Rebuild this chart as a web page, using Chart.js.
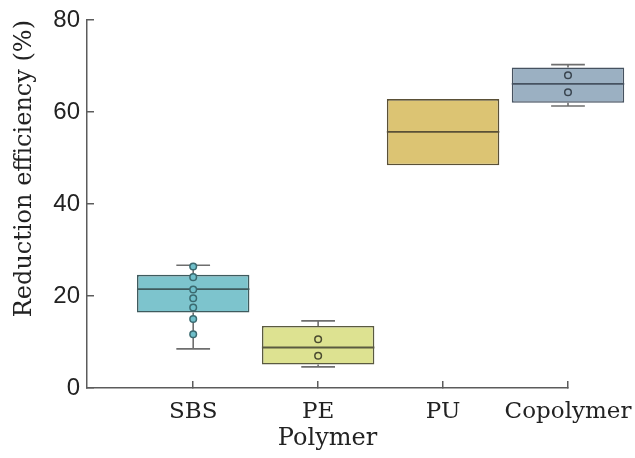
<!DOCTYPE html>
<html>
<head>
<meta charset="utf-8">
<script src="https://cdn.jsdelivr.net/npm/chart.js@4.4.1/dist/chart.umd.min.js"></script>
<style>
  html, body { margin: 0; padding: 0; background: #ffffff; }
  #wrap { width: 635px; height: 458px; }
</style>
</head>
<body>
<div id="wrap"><canvas id="c" width="635" height="458"></canvas></div>
<script>
// Polymer groups and their box-plot summaries (reduction efficiency, %)
const categories = ['SBS', 'PE', 'PU', 'Copolymer'];
const whiskerLow  = [8.5, 4.6, 48.4, 61.3];
const q1          = [16.4, 5.1, 48.4, 62.0];
const median      = [21.5, 8.8, 55.7, 66.1];
const q3          = [24.6, 13.5, 62.8, 69.7];
const whiskerHigh = [26.7, 14.6, 62.8, 70.3];

// Individual measurements shown over the boxes
const sbsPoints = [26.4, 24.1, 21.4, 19.5, 17.5, 15.0, 11.7];
const pePoints = [10.6, 7.0];
const copolymerPoints = [68.0, 64.3];

const yTicks = [0, 20, 40, 60, 80];

const boxFill   = ['#7dc4cd', '#dde291', '#dcc473', '#9bb0c2'];
const boxBorder = ['#3f5b5e', '#5a5a40', '#5a5036', '#465260'];

const boxData = categories.map((c, i) => ({ x: i + 1, y: [q1[i], q3[i]] }));
const toPoints = (vals, pos) => vals.map(v => ({ x: pos, y: v }));

// Whiskers and median lines, drawn right after the boxes
const boxLines = {
  id: 'boxLines',
  afterDatasetDraw(chart, args) {
    if (args.index !== 0) return;
    const { ctx, scales: { x, y } } = chart;
    const capHalf = 0.135;
    ctx.save();
    ctx.lineCap = 'butt';
    categories.forEach((c, i) => {
      const cx = x.getPixelForValue(i + 1);
      const capL = x.getPixelForValue(i + 1 - capHalf);
      const capR = x.getPixelForValue(i + 1 + capHalf);
      ctx.strokeStyle = '#6e6e6e';
      ctx.lineWidth = 1.6;
      const segs = [[whiskerLow[i], q1[i]], [q3[i], whiskerHigh[i]]];
      segs.forEach(([a, b]) => {
        if (b - a <= 0) return;
        ctx.beginPath();
        ctx.moveTo(cx, y.getPixelForValue(a));
        ctx.lineTo(cx, y.getPixelForValue(b));
        ctx.stroke();
      });
      [whiskerLow[i], whiskerHigh[i]].forEach((w, k) => {
        if ((k === 0 && w >= q1[i]) || (k === 1 && w <= q3[i])) return;
        const py = y.getPixelForValue(w);
        ctx.beginPath();
        ctx.moveTo(capL, py);
        ctx.lineTo(capR, py);
        ctx.stroke();
      });
      const half = 0.45;
      const my = y.getPixelForValue(median[i]);
      ctx.strokeStyle = boxBorder[i];
      ctx.lineWidth = 1.8;
      ctx.beginPath();
      ctx.moveTo(x.getPixelForValue(i + 1 - half), my);
      ctx.lineTo(x.getPixelForValue(i + 1 + half), my);
      ctx.stroke();
    });
    ctx.restore();
  }
};

const axisColor = '#5c5c5c';

new Chart(document.getElementById('c'), {
  data: {
    datasets: [
      {
        type: 'bar',
        data: boxData,
        backgroundColor: boxFill,
        borderColor: boxBorder,
        borderWidth: 1.6,
        borderSkipped: false,
        categoryPercentage: 1,
        barPercentage: 0.9,
        clip: false,
        order: 2
      },
      {
        type: 'scatter',
        data: toPoints(sbsPoints, 1),
        backgroundColor: '#6fbfca',
        borderColor: '#3b6a70',
        borderWidth: 1.5,
        pointRadius: 3.3,
        order: 1
      },
      {
        type: 'scatter',
        data: toPoints(pePoints, 2),
        backgroundColor: '#dde291',
        borderColor: '#4b4b30',
        borderWidth: 1.5,
        pointRadius: 3.3,
        order: 1
      },
      {
        type: 'scatter',
        data: toPoints(copolymerPoints, 4),
        backgroundColor: '#9bb0c2',
        borderColor: '#3a4550',
        borderWidth: 1.5,
        pointRadius: 3.3,
        clip: false,
        order: 1
      }
    ]
  },
  options: {
    responsive: false,
    animation: false,
    layout: { padding: { top: 20, right: 67, bottom: 0, left: 0 } },
    plugins: { legend: { display: false }, tooltip: { enabled: false } },
    scales: {
      x: {
        type: 'linear',
        offset: false,
        min: 0.15,
        max: 4,
        afterBuildTicks: s => { s.ticks = categories.map((c, i) => ({ value: i + 1 })); },
        afterFit: s => { s.height = 70; s.paddingLeft = 0; s.paddingRight = 0; },
        ticks: {
          callback: v => categories[v - 1],
          font: { family: 'DejaVu Serif', size: 23 },
          color: '#222222',
          padding: 17,
          maxRotation: 0,
          autoSkip: false
        },
        grid: { offset: false, drawOnChartArea: false, tickLength: -7, color: axisColor, lineWidth: 1.5 },
        border: { color: axisColor, width: 1.5 },
        title: {
          display: true,
          text: 'Polymer',
          font: { family: 'DejaVu Serif', size: 24 },
          color: '#222222',
          padding: { top: 0, bottom: 5 }
        }
      },
      y: {
        min: 0,
        max: 80,
        afterBuildTicks: s => { s.ticks = yTicks.map(v => ({ value: v })); },
        afterFit: s => { s.width = 87; s.paddingTop = 0; s.paddingBottom = 0; },
        ticks: {
          font: { family: 'Liberation Sans', size: 24 },
          color: '#222222',
          padding: 14
        },
        grid: { drawOnChartArea: false, tickLength: -7, color: axisColor, lineWidth: 1.5 },
        border: { color: axisColor, width: 1.5 },
        title: {
          display: true,
          text: 'Reduction efficiency (%)',
          align: 'end',
          font: { family: 'DejaVu Serif', size: 24 },
          color: '#222222',
          padding: { top: 10, bottom: 0 }
        }
      }
    }
  },
  plugins: [boxLines]
});
</script>
</body>
</html>
